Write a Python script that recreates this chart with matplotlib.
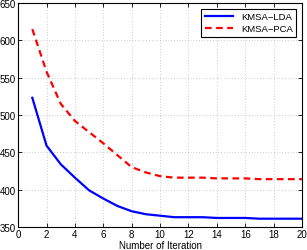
import numpy as np
import matplotlib.pyplot as plt

# iteration numbers and objective values
iters = np.arange(1, 21)
kmsa_lda = [523, 459, 434, 416, 399, 388, 378, 371, 367, 365,
            363, 363, 363, 362, 362, 362, 361, 361, 361, 361]
kmsa_pca = [615, 558, 515, 492, 477, 462, 446, 430, 423, 418,
            416, 416, 416, 415, 415, 415, 414, 414, 414, 414]

plt.rcParams['font.family'] = ['Liberation Sans', 'DejaVu Sans']

fig = plt.figure(figsize=(3.07, 2.51), dpi=100)
ax = fig.add_axes([0.059, 0.092, 0.925, 0.892])

ax.plot(iters, kmsa_lda, color='blue', linewidth=1.6, label='KMSA\u2212LDA')
ax.plot(iters, kmsa_pca, color='red', linewidth=1.6, linestyle=(0, (3, 2)), label='KMSA\u2212PCA')

ax.set_xlim(0, 20)
ax.set_ylim(350, 650)
ax.set_xticks(np.arange(0, 21, 2))
ax.set_yticks(np.arange(350, 651, 50))
ax.tick_params(direction='in', top=True, right=True, labelsize=7, length=3, width=0.6, pad=1.5)
ax.grid(True, linestyle=(0, (1, 3)), color='#a0a0a0', linewidth=0.5)
for s in ax.spines.values():
    s.set_linewidth(0.8)

ax.set_xlabel('Number of Iteration', fontsize=7, labelpad=1)
leg = ax.legend(loc='upper right', fontsize=6.8, fancybox=False, edgecolor='black',
                framealpha=1, handlelength=3.0, borderaxespad=0.6, labelspacing=0.3)
leg.get_frame().set_linewidth(0.8)

fig.savefig('out.png', dpi=100)
